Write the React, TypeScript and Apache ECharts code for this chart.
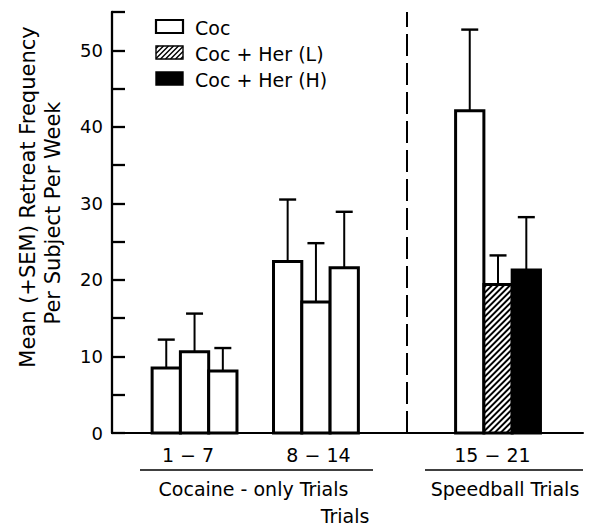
import React, { useEffect, useRef } from "react";
import * as echarts from "echarts";

// ---- data ----
const periods = ["1 − 7", "8 − 14", "15 − 21"];
const periodPos = [1, 2, 3.5];
const labelPos = [0.946, 2.021, 3.454];
const speedball = [false, false, true];
const seriesNames = ["Coc", "Coc + Her (L)", "Coc + Her (H)"];
const cocMean = [8.5, 22.4, 42.1];
const cocErrTop = [12.2, 30.5, 52.7];
const herLMean = [10.6, 17.1, 19.4];
const herLErrTop = [15.6, 24.8, 23.2];
const herHMean = [8.1, 21.6, 21.3];
const herHErrTop = [11.1, 28.9, 28.2];
const separatorPos = 2.75;
const phaseNames = ["Cocaine - only Trials", "Speedball Trials"];
const xTitle = "Trials";
const yTitle = ["Mean (+SEM) Retreat Frequency", "Per Subject Per Week"];

const seriesFills = ["white", "hatch", "black"];
const means = [cocMean, herLMean, herHMean];
const errTops = [cocErrTop, herLErrTop, herHErrTop];

const FONT = "DejaVu Sans";
const BAR_W = 0.233;

function hatchLines(x0: number, y0: number, w: number, h: number, step: number, lw: number) {
  const out: any[] = [];
  for (let C = x0 + y0 + step / 2; C < x0 + w + y0 + h; C += step) {
    const xs = Math.max(x0, C - (y0 + h));
    const xe = Math.min(x0 + w, C - y0);
    if (xe > xs) {
      out.push({
        type: "line",
        shape: { x1: xs, y1: C - xs, x2: xe, y2: C - xe },
        style: { stroke: "#000", lineWidth: lw },
        silent: true,
      });
    }
  }
  return out;
}

export default function App() {
  const ref = useRef<HTMLDivElement>(null);
  useEffect(() => {
    if (!ref.current) return;
    const chart = echarts.init(ref.current, undefined, { renderer: "svg" });

    const renderItem = (params: any, api: any) => {
      const si = params.seriesIndex;
      const x = api.value(0);
      const m = api.value(1);
      const e = api.value(2);
      const p = api.value(3);
      const bw = api.size([BAR_W, 0])[0];
      const base = api.coord([x, 0]);
      const cx = base[0] + (si - 1) * bw;
      const y0 = base[1];
      const yTop = api.coord([x, m])[1];
      const yErr = api.coord([x, e])[1];
      const left = cx - bw / 2;
      const kind = speedball[p] ? seriesFills[si] : "white";
      const children: any[] = [];
      children.push({
        type: "rect",
        shape: { x: left, y: yTop, width: bw, height: y0 - yTop },
        style: { fill: kind === "black" ? "#000" : "#fff", stroke: "none" },
      });
      if (kind === "hatch") {
        children.push(...hatchLines(left, yTop, bw, y0 - yTop, 6, 1.8));
      }
      children.push({
        type: "rect",
        shape: { x: left, y: yTop, width: bw, height: y0 - yTop },
        style: { fill: "none", stroke: "#000", lineWidth: 3 },
      });
      children.push({
        type: "line",
        shape: { x1: cx, y1: yTop, x2: cx, y2: yErr },
        style: { stroke: "#000", lineWidth: 2 },
      });
      children.push({
        type: "line",
        shape: { x1: cx - 8.5, y1: yErr, x2: cx + 8.5, y2: yErr },
        style: { stroke: "#000", lineWidth: 2.4 },
      });
      return { type: "group", children };
    };

    const series: any[] = seriesNames.map((name, si) => ({
      type: "custom",
      name,
      renderItem,
      encode: { x: 0, y: 1 },
      data: periodPos.map((pos, i) => [pos, means[si][i], errTops[si][i], i]),
      z: 3,
    }));
    series[0].markLine = {
      silent: true,
      symbol: ["none", "none"],
      label: { show: false },
      lineStyle: { color: "#000", width: 2, type: [22, 7] },
      data: [{ xAxis: separatorPos }],
    };

    // legend drawn as graphic
    const legendRows = [26.5, 52.5, 78.5];
    const legendGraphics: any[] = [];
    seriesNames.forEach((name, i) => {
      const y = legendRows[i] - 6.5;
      const kind = seriesFills[i];
      legendGraphics.push({
        type: "rect",
        shape: { x: 156, y, width: 27, height: 13 },
        style: { fill: kind === "black" ? "#000" : "#fff", stroke: "none" },
      });
      if (kind === "hatch") legendGraphics.push(...hatchLines(156, y, 27, 13, 5, 1.5));
      legendGraphics.push({
        type: "rect",
        shape: { x: 156, y, width: 27, height: 13 },
        style: { fill: "none", stroke: "#000", lineWidth: kind === "white" ? 2.2 : 1.4 },
      });
      legendGraphics.push({
        type: "text",
        x: 195,
        y: legendRows[i] + 1,
        style: { text: name, fontSize: 19, fontFamily: FONT, fill: "#000", textAlign: "left", textVerticalAlign: "middle" },
      });
    });

    const option: any = {
      animation: false,
      backgroundColor: "#fff",
      grid: { left: 112, right: 10, top: 12, bottom: 95, containLabel: false },
      xAxis: {
        type: "value",
        min: 0.32,
        max: 4.2,
        axisLine: { show: true, onZero: false, lineStyle: { color: "#000", width: 2 } },
        axisTick: { show: false },
        splitLine: { show: false },
        axisLabel: {
          customValues: labelPos,
          formatter: (v: number) => {
            let best = 0;
            labelPos.forEach((lp, i) => {
              if (Math.abs(lp - v) < Math.abs(labelPos[best] - v)) best = i;
            });
            return periods[best];
          },
          fontSize: 19,
          fontFamily: FONT,
          color: "#000",
          margin: 12,
        },
      },
      yAxis: {
        type: "value",
        min: 0,
        max: 55,
        interval: 5,
        axisLine: { show: true, lineStyle: { color: "#000", width: 2.3 } },
        axisTick: { show: true, inside: true, length: 13, lineStyle: { color: "#000", width: 2.3 } },
        splitLine: { show: false },
        axisLabel: {
          formatter: (v: number) => (v % 10 === 0 ? String(v) : ""),
          fontSize: 18,
          fontFamily: FONT,
          color: "#000",
          margin: 9,
        },
      },
      series,
      graphic: [
        ...legendGraphics,
        {
          type: "text",
          x: 28,
          y: 197,
          rotation: Math.PI / 2,
          style: { text: yTitle[0], fontSize: 21, fontFamily: FONT, fill: "#000", textAlign: "center", textVerticalAlign: "middle" },
        },
        {
          type: "text",
          x: 53,
          y: 213,
          rotation: Math.PI / 2,
          style: { text: yTitle[1], fontSize: 21, fontFamily: FONT, fill: "#000", textAlign: "center", textVerticalAlign: "middle" },
        },
        { type: "line", shape: { x1: 140, y1: 470, x2: 373, y2: 470 }, style: { stroke: "#000", lineWidth: 1.5 } },
        { type: "line", shape: { x1: 425, y1: 470, x2: 583, y2: 470 }, style: { stroke: "#000", lineWidth: 1.5 } },
        {
          type: "text",
          x: 253.5,
          y: 489,
          style: { text: phaseNames[0], fontSize: 19, fontFamily: FONT, fill: "#000", textAlign: "center", textVerticalAlign: "middle" },
        },
        {
          type: "text",
          x: 505,
          y: 489,
          style: { text: phaseNames[1], fontSize: 19, fontFamily: FONT, fill: "#000", textAlign: "center", textVerticalAlign: "middle" },
        },
        {
          type: "text",
          x: 345,
          y: 516,
          style: { text: xTitle, fontSize: 19, fontFamily: FONT, fill: "#000", textAlign: "center", textVerticalAlign: "middle" },
        },
      ],
    };
    chart.setOption(option);
    return () => chart.dispose();
  }, []);
  return (
    <div
      ref={ref}
      style={{ position: "absolute", left: 0, top: 0, width: 593, height: 528, background: "#fff" }}
    />
  );
}
